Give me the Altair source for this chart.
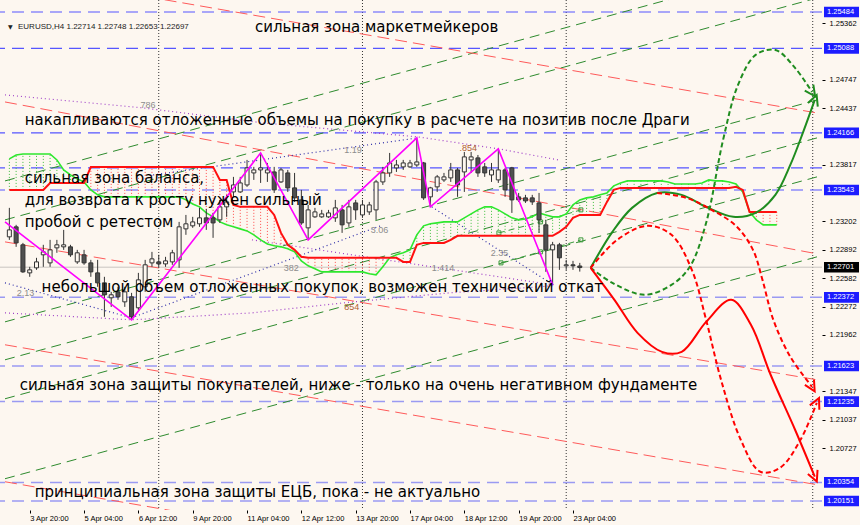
import json
import altair as alt
import pandas as pd

LABEL_FONT = "Liberation Sans"
NOTE_FONT = "DejaVu Sans"
BG = "#fdf7f0"

# ---------------- EURUSD H4 candles (bar index 0 = 3 Apr 20:00) ----------------
FIRST_BAR = -3
opens = [
    1.23032, 1.23141, 1.22945,
    1.22639, 1.22694, 1.22836, 1.22748, 1.22912, 1.22923, 1.22923, 1.22759, 1.22836, 1.22748,
    1.22639, 1.22530, 1.22367, 1.22432, 1.22323, 1.22378, 1.22258, 1.22487, 1.22748, 1.22759,
    1.22737, 1.22759, 1.22781, 1.23119, 1.23152, 1.23174, 1.23239, 1.23239, 1.23217, 1.23359,
    1.23522, 1.23522, 1.23598, 1.23729, 1.23762, 1.23729, 1.23740, 1.23631, 1.23729, 1.23566,
    1.23435, 1.23130, 1.23250, 1.23250, 1.23250, 1.23239, 1.23326, 1.23184, 1.23402, 1.23271,
    1.23304, 1.23326, 1.23631, 1.23729, 1.23784, 1.23795, 1.23795, 1.23816, 1.23838, 1.23468,
    1.23577, 1.23653, 1.23675, 1.23762, 1.23740, 1.23871, 1.23893, 1.23795, 1.23707, 1.23653,
    1.23762, 1.23784, 1.23468, 1.23457, 1.23457, 1.23402, 1.23163, 1.22890, 1.22945, 1.22716,
    1.22727, 1.22714,
]
highs = [
    1.23348, 1.23163, 1.22966,
    1.22705, 1.22803, 1.22945, 1.22999, 1.22999, 1.23108, 1.22945, 1.22890, 1.22890, 1.22781,
    1.22781, 1.22596, 1.22432, 1.22487, 1.22487, 1.22421, 1.22639, 1.22781, 1.22868, 1.22836,
    1.22814, 1.22890, 1.23195, 1.23271, 1.23250, 1.23348, 1.23337, 1.23293, 1.23435, 1.23490,
    1.23686, 1.23686, 1.23871, 1.23795, 1.23947, 1.23838, 1.23795, 1.23784, 1.23762, 1.23729,
    1.23544, 1.23380, 1.23348, 1.23326, 1.23326, 1.23435, 1.23380, 1.23435, 1.23435, 1.23435,
    1.23413, 1.23653, 1.23795, 1.23947, 1.23871, 1.23871, 1.23871, 1.24111, 1.23849, 1.23577,
    1.23707, 1.23729, 1.23838, 1.23784, 1.23958, 1.23958, 1.23925, 1.23838, 1.23838, 1.23991,
    1.23784, 1.23795, 1.23511, 1.23490, 1.23490, 1.23511, 1.23217, 1.22977, 1.22966, 1.22781,
    1.22770, 1.22748,
]
lows = [
    1.22999, 1.22923, 1.22639,
    1.22596, 1.22672, 1.22705, 1.22705, 1.22858, 1.22890, 1.22814, 1.22737, 1.22727, 1.22596,
    1.22487, 1.22160, 1.22268, 1.22345, 1.22268, 1.22127, 1.22234, 1.22432, 1.22705, 1.22694,
    1.22705, 1.22727, 1.22694, 1.23054, 1.23130, 1.23141, 1.23108, 1.23021, 1.23184, 1.23250,
    1.23468, 1.23511, 1.23577, 1.23653, 1.23620, 1.23631, 1.23511, 1.23620, 1.23522, 1.23413,
    1.23163, 1.22999, 1.23239, 1.23239, 1.23239, 1.23195, 1.23075, 1.23141, 1.23217, 1.23239,
    1.23271, 1.23217, 1.23598, 1.23686, 1.23740, 1.23762, 1.23784, 1.23795, 1.23435, 1.23359,
    1.23522, 1.23631, 1.23631, 1.23468, 1.23522, 1.23729, 1.23686, 1.23686, 1.23631, 1.23620,
    1.23468, 1.23293, 1.23413, 1.23402, 1.23380, 1.23075, 1.22650, 1.22508, 1.22672, 1.22672,
    1.22672, 1.22653,
]
closes = [
    1.23108, 1.22966, 1.22650,
    1.22672, 1.22759, 1.22868, 1.22890, 1.22945, 1.22945, 1.22836, 1.22858, 1.22748, 1.22650,
    1.22530, 1.22400, 1.22400, 1.22378, 1.22432, 1.22160, 1.22563, 1.22727, 1.22792, 1.22737,
    1.22770, 1.22858, 1.23141, 1.23174, 1.23195, 1.23239, 1.23184, 1.23184, 1.23359, 1.23413,
    1.23598, 1.23620, 1.23784, 1.23762, 1.23784, 1.23762, 1.23544, 1.23762, 1.23566, 1.23457,
    1.23184, 1.23326, 1.23304, 1.23282, 1.23293, 1.23348, 1.23163, 1.23359, 1.23326, 1.23380,
    1.23380, 1.23631, 1.23729, 1.23838, 1.23816, 1.23838, 1.23838, 1.23849, 1.23457, 1.23566,
    1.23686, 1.23686, 1.23762, 1.23598, 1.23904, 1.23904, 1.23729, 1.23729, 1.23762, 1.23762,
    1.23544, 1.23435, 1.23435, 1.23424, 1.23413, 1.23217, 1.22890, 1.22945, 1.22803, 1.22727,
    1.22716, 1.22697,
]

# ---------------- Ichimoku cloud: Senkou span A (green) and B (red) ----------------
span_a = [
    1.23882, 1.23925, 1.23936, 1.23936, 1.23936, 1.23936, 1.23936, 1.23871, 1.23762, 1.23707,
    1.23664, 1.23631, 1.23544, 1.23490, 1.23468, 1.23468, 1.23468, 1.23468, 1.23468, 1.23468,
    1.23468, 1.23468, 1.23468, 1.23468, 1.23468, 1.23468, 1.23435, 1.23391, 1.23359, 1.23293,
    1.23250, 1.23195, 1.23163, 1.23141, 1.23119, 1.23097, 1.23054, 1.22999, 1.22955, 1.22934,
    1.22923, 1.22901, 1.22868, 1.22770, 1.22716, 1.22683, 1.22650, 1.22650, 1.22650, 1.22650,
    1.22650, 1.22650, 1.22650, 1.22629, 1.22618, 1.22705, 1.22803, 1.22836, 1.22858, 1.22890,
    1.23054, 1.23152, 1.23174, 1.23184, 1.23195, 1.23195, 1.23195, 1.23239, 1.23282, 1.23326,
    1.23359, 1.23359, 1.23326, 1.23282, 1.23239, 1.23217, 1.23228, 1.23250, 1.23293, 1.23271,
    1.23250, 1.23250, 1.23282, 1.23380, 1.23435, 1.23457, 1.23468, 1.23490, 1.23511, 1.23588,
    1.23620, 1.23642, 1.23642, 1.23642, 1.23642, 1.23642, 1.23642, 1.23631, 1.23609, 1.23609,
    1.23609, 1.23609, 1.23620, 1.23653, 1.23642, 1.23642, 1.23631, 1.23609, 1.23522, 1.23304,
    1.23217, 1.23163, 1.23163, 1.23163,
]
span_b = [
    1.23544, 1.23544, 1.23544, 1.23544, 1.23544, 1.23544, 1.23620, 1.23620, 1.23620, 1.23620,
    1.23620, 1.23620, 1.23795, 1.23795, 1.23795, 1.23795, 1.23795, 1.23795, 1.23795, 1.23795,
    1.23795, 1.23795, 1.23795, 1.23795, 1.23795, 1.23795, 1.23795, 1.23795, 1.23795, 1.23795,
    1.23795, 1.23653, 1.23653, 1.23380, 1.23359, 1.23359, 1.23359, 1.23359, 1.23359, 1.23271,
    1.23075, 1.22945, 1.22890, 1.22814, 1.22803, 1.22803, 1.22803, 1.22803, 1.22803, 1.22803,
    1.22803, 1.22803, 1.22803, 1.22803, 1.22803, 1.22803, 1.22803, 1.22803, 1.22759, 1.22759,
    1.22945, 1.22966, 1.22966, 1.22966, 1.22966, 1.22999, 1.23043, 1.23043, 1.23043, 1.23043,
    1.23043, 1.23043, 1.23043, 1.23043, 1.23043, 1.23043, 1.23043, 1.23043, 1.23043, 1.23043,
    1.23043, 1.23086, 1.23141, 1.23239, 1.23271, 1.23271, 1.23271, 1.23271, 1.23413, 1.23544,
    1.23566, 1.23566, 1.23566, 1.23566, 1.23566, 1.23566, 1.23566, 1.23566, 1.23566, 1.23566,
    1.23566, 1.23566, 1.23566, 1.23566, 1.23566, 1.23566, 1.23566, 1.23577, 1.23544, 1.23304,
    1.23304, 1.23304, 1.23304, 1.23304,
]

# ---------------- ZigZag pivots ----------------
zz_bar = [-3.64, 15, 34, 41, 57, 59, 69, 77]
zz_price = [1.23195, 1.22127, 1.23947, 1.22999, 1.24111, 1.23359, 1.23991, 1.22508]

# ---------------- axes ----------------
date_ticks = [-8, 0, 8, 16, 24, 32, 40, 48, 56, 64, 72, 80]
date_labels = ["2 Apr 12:00", "3 Apr 20:00", "5 Apr 04:00", "6 Apr 12:00", "9 Apr 20:00",
               "11 Apr 04:00", "12 Apr 12:00", "13 Apr 20:00", "17 Apr 04:00",
               "18 Apr 12:00", "19 Apr 20:00", "23 Apr 04:00"]
price_ticks = [1.25362, 1.24747, 1.24437, 1.23817, 1.23202, 1.22892, 1.22582, 1.22272,
               1.21962, 1.21347, 1.21037, 1.20727]
week_separators = [19, 49, 79, 115.3]

# ---------------- horizontal levels ----------------
upper_levels = [1.25484, 1.25088, 1.24166, 1.23784, 1.23543]
lower_levels = [1.22372, 1.21623, 1.21235, 1.20354, 1.20151]
boxed_levels = [1.25484, 1.25088, 1.24166, 1.23543, 1.22372, 1.21623, 1.21235, 1.20354, 1.20151]
last_price = 1.22701

# ---------------- channel lines (left edge -> right edge) ----------------
EDGE_L, EDGE_R = -3.64, 115.93
green_start = [1.23642, 1.23217, 1.22105, 1.21691, 1.21266, 1.20394]
green_end = [1.26062, 1.25637, 1.24525, 1.24111, 1.23686, 1.22814]
red_start = [1.25920, 1.24503, 1.22977, 1.21855, 1.20361]
red_end = [1.24383, 1.22847, 1.21473, 1.20329, 1.18824]

# ---------------- fibonacci dotted constructions ----------------
fib_purple = {
    "arc_top": ([-3.64, 16.73, 34.47, 57.16, 69.09, 77.82],
                [1.24580, 1.24438, 1.24274, 1.24122, 1.23991, 1.23871]),
    "arc_bottom": ([-3.64, 14.98, 32.73, 46.25, 61.82, 77.09],
                   [1.22203, 1.22127, 1.22203, 1.22312, 1.22421, 1.22498]),
    "ext": ([32.73, 77.09], [1.22999, 1.22508]),
}
fib_navy = {
    "b1": ([18.18, 57.16], [1.23707, 1.24111]),
    "b3": ([59.2, 77.09], [1.23359, 1.22508]),
    "b4": ([-3.64, 14.98], [1.22530, 1.22149]),
    "b5": ([14.98, 51.64], [1.22149, 1.23152]),
}
fib_grey_text = ["786", "1.19", "3.06", "382", "1.414", "2.35", "2.13"]
fib_grey_bar = [16.3, 46.3, 50.2, 37.4, 59.2, 67.9, -1.9]
fib_grey_price = [1.24471, 1.23980, 1.23108, 1.22694, 1.22694, 1.22857, 1.22421]
fib_brown_text = [".854", "854"]
fib_brown_bar = [63.3, 46.3]
fib_brown_price = [1.24002, 1.22269]

# trend segments with square markers
square_lines = {
    "s1": ([69.09, 75.2, 81.16], [1.23075, 1.23195, 1.23326]),
    "s2": ([69.4, 75.2, 81.16], [1.22748, 1.22868, 1.22999]),
}

# ---------------- scenario curves ----------------
scenarios = {
    "green_solid": ([82.6, 85.8, 88.7, 92.4, 96.0, 99.6, 103.6, 106.9, 109.8, 112.0, 113.9, 115.6],
                    [1.22694, 1.23086, 1.23348, 1.23511, 1.23490, 1.23359, 1.23250, 1.23293,
                     1.23490, 1.23816, 1.24176, 1.24525]),
    "green_dash": ([82.6, 85.8, 90.5, 94.5, 97.2, 99.6, 102.1, 104.3, 106.9, 109.8, 112.7, 115.2],
                   [1.22694, 1.22530, 1.22400, 1.22508, 1.22705, 1.23184, 1.24089, 1.24689,
                    1.25016, 1.25070, 1.24874, 1.24612]),
    "red_solid": ([82.6, 86.1, 89.5, 93.1, 96.0, 99.6, 103.3, 106.2, 109.1, 112.7, 115.6],
                  [1.22694, 1.22345, 1.21985, 1.21778, 1.21778, 1.22105, 1.22345, 1.22073,
                   1.21528, 1.20928, 1.20416]),
    "red_dash": ([82.6, 86.5, 90.9, 94.5, 97.5, 99.6, 101.8, 104.7, 107.6, 110.5, 113.5, 115.9],
                 [1.22694, 1.22999, 1.23152, 1.23054, 1.22672, 1.22127, 1.21473, 1.20819,
                  1.20470, 1.20514, 1.20819, 1.21222]),
    "red_dash_2": ([92.4, 96.7, 100.4, 104.0, 106.5, 107.9, 109.5, 112.0, 115.2],
                   [1.23511, 1.23457, 1.23326, 1.23152, 1.22890, 1.22563, 1.22127, 1.21724,
                    1.21397]),
}
scenario_style = {
    "green_solid": ("#1f8c1f", []),
    "green_dash": ("#1f8c1f", [5, 3]),
    "red_solid": ("#ff0000", []),
    "red_dash": ("#ff0000", [5, 3]),
    "red_dash_2": ("#ff0000", [5, 3]),
}
arrow_bar = [115.6, 115.2, 115.6, 115.9, 115.2]
arrow_price = [1.24525, 1.24612, 1.20416, 1.21222, 1.21397]
arrow_angle = [21, 145, 157, 25, 150]
arrow_green = [True, True, False, False, False]

# ---------------- annotations ----------------
notes = [
    "сильная зона маркетмейкеров",
    "накапливаются отложенные объемы на покупку в расчете на позитив после Драги",
    "сильная зона баланса,",
    "для возврата к росту нужен сильный",
    "пробой с ретестом",
    "небольшой объем отложенных покупок, возможен технический откат",
    "сильная зона защиты покупателей, ниже - только на очень негативном фундаменте",
    "принципиальная зона защиты ЕЦБ, пока - не актуально",
]
note_bar = [33.16, -0.73, -0.73, -0.73, -0.73, 1.75, -1.45, 0.73]
note_price = [1.25321, 1.24307, 1.23675, 1.23435, 1.23195, 1.22487, 1.21418, 1.20252]
header = "EURUSD,H4  1.22714 1.22748 1.22653 1.22697"

# =====================================================================
x_scale = alt.Scale(domain=[EDGE_L, EDGE_R], nice=False, zero=False)
y_scale = alt.Scale(domain=[1.20053, 1.25615], nice=False, zero=False)

label_expr = json.dumps(date_labels) + "[round((datum.value + 8) / 8)]"
x_axis = alt.Axis(orient="bottom", values=date_ticks, labelExpr=label_expr, labelAlign="left",
                  labelFont=LABEL_FONT, labelFontSize=7.5, labelColor="#000000", tickSize=3,
                  tickColor="#000000", labelPadding=1, domain=False, grid=False, title=None,
                  labelOverlap=False, labelFlush=False, labelBound=False)
y_axis = alt.Axis(orient="right", values=price_ticks, format=".5f", labelFont=LABEL_FONT,
                  labelFontSize=7.5, labelColor="#000000", tickSize=3, tickColor="#000000",
                  labelPadding=4, domain=False, grid=False, title=None, labelOverlap=False,
                  labelFlush=False, labelBound=False)


def X(field="i"):
    return alt.X(f"{field}:Q", scale=x_scale, axis=x_axis)


def Y(field="p"):
    return alt.Y(f"{field}:Q", scale=y_scale, axis=y_axis)


def path_frame(paths):
    rows = []
    for name, (bars, prices) in paths.items():
        for k, (b, p) in enumerate(zip(bars, prices)):
            rows.append({"name": name, "i": b, "p": p, "k": k})
    return pd.DataFrame(rows)


layers = []

# weekly separators
layers.append(alt.Chart(pd.DataFrame({"i": week_separators})).mark_rule(
    color="#333333", strokeDash=[1, 2], strokeWidth=1).encode(x=X()))

# key levels
layers.append(alt.Chart(pd.DataFrame({"p": upper_levels})).mark_rule(
    color="#5656ff", strokeDash=[12, 7], strokeWidth=1.2).encode(y=Y()))
layers.append(alt.Chart(pd.DataFrame({"p": lower_levels})).mark_rule(
    color="#9a9af2", strokeDash=[12, 7], strokeWidth=1.5).encode(y=Y()))
layers.append(alt.Chart(pd.DataFrame({"p": [last_price]})).mark_rule(
    color="#c8c4c0", strokeWidth=1).encode(y=Y()))

# channel lines
ch_rows = []
for n, (a, b) in enumerate(zip(green_start, green_end)):
    ch_rows += [{"name": f"g{n}", "i": EDGE_L, "p": a}, {"name": f"g{n}", "i": EDGE_R, "p": b}]
layers.append(alt.Chart(pd.DataFrame(ch_rows)).mark_line(
    color="#2e8b2e", strokeDash=[10, 6], strokeWidth=1, clip=True).encode(
    x=X(), y=Y(), detail="name:N"))
rh_rows = []
for n, (a, b) in enumerate(zip(red_start, red_end)):
    rh_rows += [{"name": f"r{n}", "i": EDGE_L, "p": a}, {"name": f"r{n}", "i": EDGE_R, "p": b}]
layers.append(alt.Chart(pd.DataFrame(rh_rows)).mark_line(
    color="#ff5a5a", strokeDash=[12, 6], strokeWidth=1, clip=True).encode(
    x=X(), y=Y(), detail="name:N"))

# fibonacci dotted lines
layers.append(alt.Chart(path_frame(fib_purple)).mark_line(
    color="#a040c8", strokeDash=[1, 3], strokeWidth=1.2, clip=True).encode(
    x=X(), y=Y(), detail="name:N", order="k:Q"))
layers.append(alt.Chart(path_frame(fib_navy)).mark_line(
    color="#2c2ca8", strokeDash=[1, 3], strokeWidth=1.2, clip=True).encode(
    x=X(), y=Y(), detail="name:N", order="k:Q"))

# square-marker trend segments
sq = path_frame(square_lines)
layers.append(alt.Chart(sq).mark_line(color="#3a9a3a", strokeDash=[6, 4], strokeWidth=1).encode(
    x=X(), y=Y(), detail="name:N", order="k:Q"))
layers.append(alt.Chart(sq).mark_point(shape="square", size=16, filled=False, color="#3a9a3a",
                                       strokeWidth=1, opacity=1).encode(x=X(), y=Y()))

# cloud hatching: green where span A is on top, red where span B is on top
cloud = pd.DataFrame({"i": range(FIRST_BAR, FIRST_BAR + len(span_a)), "a": span_a, "b": span_b})
cloud["lo"] = cloud[["a", "b"]].min(axis=1)
cloud["hi"] = cloud[["a", "b"]].max(axis=1)
layers.append(alt.Chart(cloud[cloud["a"] >= cloud["b"]]).mark_rule(
    strokeDash=[1, 2], strokeWidth=1, color="#3cbf3c", clip=True).encode(
    x=X(), y=Y("lo"), y2="hi:Q"))
layers.append(alt.Chart(cloud[cloud["a"] < cloud["b"]]).mark_rule(
    strokeDash=[1, 2], strokeWidth=1, color="#ff4a4a", clip=True).encode(
    x=X(), y=Y("lo"), y2="hi:Q"))
layers.append(alt.Chart(cloud).mark_line(color="#2ee82e", strokeWidth=1.6, clip=True).encode(
    x=X(), y=Y("a")))
layers.append(alt.Chart(cloud).mark_line(color="#ff1010", strokeWidth=2, clip=True).encode(
    x=X(), y=Y("b")))

# candles
candles = pd.DataFrame({"i": range(FIRST_BAR, FIRST_BAR + len(opens)),
                        "o": opens, "h": highs, "l": lows, "c": closes})
layers.append(alt.Chart(candles).mark_rule(color="#333333", strokeWidth=1).encode(
    x=X(), y=Y("l"), y2="h:Q"))
layers.append(alt.Chart(candles[candles["c"] >= candles["o"]]).mark_bar(
    size=4, stroke="#333333", strokeWidth=1, fill=BG).encode(x=X(), y=Y("o"), y2="c:Q"))
layers.append(alt.Chart(candles[candles["c"] < candles["o"]]).mark_bar(
    size=4, stroke="#333333", strokeWidth=1, fill="#505050").encode(x=X(), y=Y("o"), y2="c:Q"))

# zigzag
layers.append(alt.Chart(pd.DataFrame({"i": zz_bar, "p": zz_price, "k": range(len(zz_bar))}))
              .mark_line(color="#ff00ff", strokeWidth=1.6, clip=True)
              .encode(x=X(), y=Y(), order="k:Q"))

# scenario curves
for name, (bars, prices) in scenarios.items():
    color, dash = scenario_style[name]
    df = pd.DataFrame({"i": bars, "p": prices, "k": range(len(bars))})
    kw = {"strokeDash": dash} if dash else {}
    layers.append(alt.Chart(df).mark_line(color=color, strokeWidth=2, interpolate="catmull-rom",
                                          **kw).encode(x=X(), y=Y(), order="k:Q"))
arrows = pd.DataFrame({"i": arrow_bar, "p": arrow_price, "ang": arrow_angle, "g": arrow_green})
for is_green, col in [(True, "#1f8c1f"), (False, "#ff0000")]:
    layers.append(alt.Chart(arrows[arrows["g"] == is_green])
                  .mark_point(shape="M-1,1L0,-1L1,1", size=110, filled=False, strokeWidth=2,
                              opacity=1, color=col)
                  .encode(x=X(), y=Y(), angle=alt.Angle("ang:Q", scale=None)))

# fibonacci level labels
layers.append(alt.Chart(pd.DataFrame({"i": fib_grey_bar, "p": fib_grey_price, "t": fib_grey_text}))
              .mark_text(font=LABEL_FONT, fontSize=9, align="left", baseline="middle",
                         color="#8c8c8c")
              .encode(x=X(), y=Y(), text="t:N"))
layers.append(alt.Chart(pd.DataFrame({"i": fib_brown_bar, "p": fib_brown_price, "t": fib_brown_text}))
              .mark_text(font=LABEL_FONT, fontSize=9, align="left", baseline="middle",
                         color="#b06030")
              .encode(x=X(), y=Y(), text="t:N"))

# annotations
layers.append(alt.Chart(pd.DataFrame({"i": note_bar, "p": note_price, "t": notes}))
              .mark_text(font=NOTE_FONT, fontSize=15, align="left", baseline="middle",
                         color="#000000")
              .encode(x=X(), y=Y(), text="t:N"))

# symbol header
layers.append(alt.Chart(pd.DataFrame({"t": ["▼"]})).mark_text(
    font=NOTE_FONT, fontSize=6, align="left", baseline="middle", color="#222222").encode(
    x=alt.value(8), y=alt.value(27), text="t:N"))
layers.append(alt.Chart(pd.DataFrame({"t": [header]})).mark_text(
    font=LABEL_FONT, fontSize=8, align="left", baseline="middle", color="#222222").encode(
    x=alt.value(18), y=alt.value(27), text="t:N"))

# price boxes on the scale
boxes = pd.DataFrame({"p": boxed_levels + [last_price],
                      "last": [False] * len(boxed_levels) + [True]})
boxes["hi"] = boxes["p"] + 0.00058
boxes["lo"] = boxes["p"] - 0.00058
boxes["t"] = boxes["p"].map(lambda v: f"{v:.5f}")
for is_last, col in [(False, "#1c1cff"), (True, "#000000")]:
    layers.append(alt.Chart(boxes[boxes["last"] == is_last]).mark_rect(color=col).encode(
        x=alt.value(824), x2=alt.value(859), y=Y("hi"), y2="lo:Q"))
layers.append(alt.Chart(boxes).mark_text(font=LABEL_FONT, fontSize=7.5, align="left",
                                         baseline="middle", color="#ffffff").encode(
    x=alt.value(827), y=Y(), text="t:N"))

chart = (alt.layer(*layers)
         .properties(width=822, height=510,
                     autosize=alt.AutoSizeParams(type="none"),
                     padding={"left": 0, "top": 0, "right": 38, "bottom": 15})
         .configure(background=BG)
         .configure_view(strokeWidth=0, fill=BG))

chart.save("out.html", embed_options={"renderer": "svg", "actions": False})
